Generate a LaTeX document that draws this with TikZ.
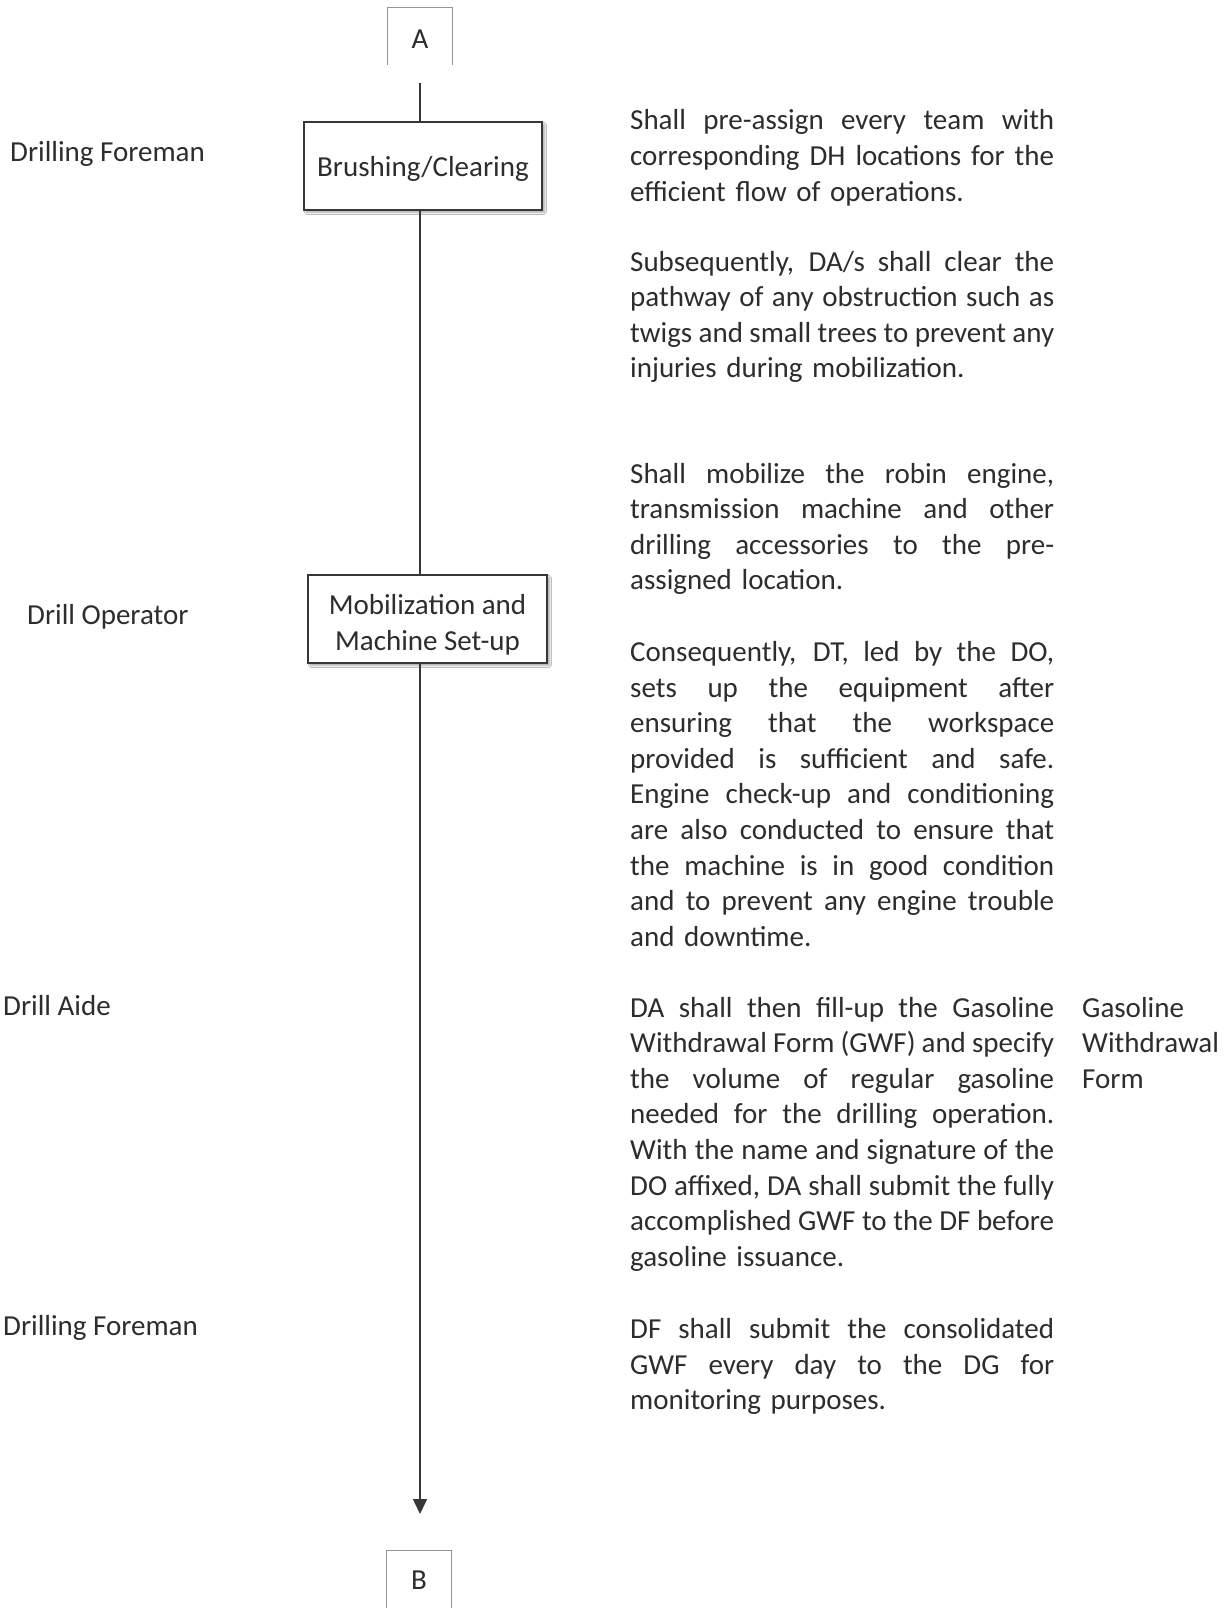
\documentclass[tikz,border=0pt]{standalone}
\usepackage{fontspec}
\setmainfont{Carlito}
\usetikzlibrary{arrows.meta,shadows.blur}
\definecolor{txt}{RGB}{45,45,45}
\definecolor{edge}{RGB}{55,55,55}
\definecolor{lite}{RGB}{150,150,150}
\newcommand{\jl}[1]{\makebox[424pt][s]{\spaceskip=\fontdimen2\font plus 1fil minus 0.6\fontdimen2\font\relax #1}\\}
\begin{document}
\begin{tikzpicture}[x=1pt,y=1pt,
  every node/.style={text=txt,font=\fontsize{29}{35.6}\selectfont},
  procbox/.style={draw=edge,line width=1.5pt,fill=white,inner sep=0pt,
    blur shadow={shadow xshift=2.5pt,shadow yshift=-2.5pt,shadow blur steps=6,shadow opacity=35}},
  boxtext/.style={inner sep=0pt,align=center},
  role/.style={anchor=base west,inner sep=0pt},
  para/.style={anchor=base west,inner sep=0pt,text width=424pt,align=left},
  flow/.style={draw=edge,line width=1.5pt},
  conn/.style={draw=lite,line width=0.8pt}]
\useasboundingbox[fill=white] (0,0) rectangle (1230,-1608);

% connector boxes A and B (open at one side)
\node[inner sep=0pt,minimum width=64pt,minimum height=57pt] (A) at (420,-36.5) {};
\node[boxtext] (Atxt) at ([yshift=-3pt]A.center) {A};
\draw[conn] (A.south west) -- (A.north west) -- (A.north east) -- (A.south east);
\node[inner sep=0pt,minimum width=64pt,minimum height=57pt] (B) at (419,-1579.5) {};
\node[boxtext] (Btxt) at ([yshift=-1pt]B.center) {B};
\draw[conn] (B.south west) -- (B.north west) -- (B.north east) -- (B.south east);

% process boxes
\node[procbox,minimum width=238pt,minimum height=88pt] (brush) at (423,-166) {};
\node[boxtext] (brushtxt) at ([yshift=-3pt]brush.center) {Brushing/Clearing};
\node[procbox,minimum width=239pt,minimum height=88pt] (mob) at (427.5,-619) {};
\node[boxtext] (mobtxt) at ([yshift=-5.5pt]mob.center) {Mobilization and\\Machine Set-up};

% flow line
\coordinate (Astart) at (420,-83);
\coordinate (end) at (420,-1514);
\draw[flow] (Astart) -- (Astart |- brush.north);
\draw[flow] (Astart |- brush.south) -- (Astart |- mob.north);
\draw[flow,-{Triangle[length=15pt,width=14pt]}] (Astart |- mob.south) -- (end);

% roles
\node[role] (r1) at (10,-162) {Drilling Foreman};
\node[role] (r2) at (27,-624) {Drill Operator};
\node[role] (r3) at (3,-1015) {Drill Aide};
\node[role] (r4) at (3,-1335) {Drilling Foreman};

% descriptions
\node[para] (p1) at (630,-130) {%
\jl{Shall pre-assign every team with}
\jl{corresponding DH locations for the}
efficient flow of operations.};
\node[para] (p2) at (630,-271) {%
\jl{Subsequently, DA/s shall clear the}
\jl{pathway of any obstruction such as}
\jl{twigs and small trees to prevent any}
injuries during mobilization.};
\node[para] (p3) at (630,-483) {%
\jl{Shall mobilize the robin engine,}
\jl{transmission machine and other}
\jl{drilling accessories to the pre-}
assigned location.};
\node[para] (p4) at (630,-661.5) {%
\jl{Consequently, DT, led by the DO,}
\jl{sets up the equipment after}
\jl{ensuring that the workspace}
\jl{provided is sufficient and safe.}
\jl{Engine check-up and conditioning}
\jl{are also conducted to ensure that}
\jl{the machine is in good condition}
\jl{and to prevent any engine trouble}
and downtime.};
\node[para] (p5) at (630,-1017) {%
\jl{DA shall then fill-up the Gasoline}
\jl{Withdrawal Form (GWF) and specify}
\jl{the volume of regular gasoline}
\jl{needed for the drilling operation.}
\jl{With the name and signature of the}
\jl{DO affixed, DA shall submit the fully}
\jl{accomplished GWF to the DF before}
gasoline issuance.};
\node[para] (p6) at (630,-1338.5) {%
\jl{DF shall submit the consolidated}
\jl{GWF every day to the DG for}
monitoring purposes.};
\node[anchor=base west,inner sep=0pt,text width=145pt,align=left] (form) at (1082,-1017) {Gasoline\\Withdrawal\\Form};
\end{tikzpicture}
\end{document}
